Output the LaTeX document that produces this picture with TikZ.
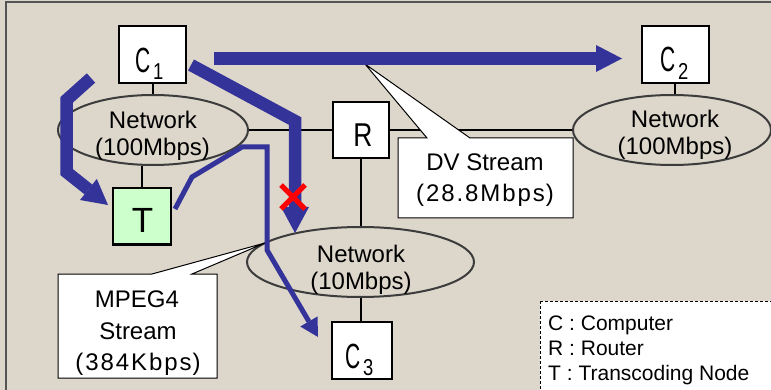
\documentclass[tikz,border=0pt]{standalone}
\usepackage{fontspec}
\setmainfont{Liberation Sans}
\newfontfamily\cfont[FakeStretch=0.6]{Liberation Sans}
\newfontfamily\nfont[FakeStretch=0.8]{Liberation Sans}
\newfontfamily\spfont[LetterSpace=8]{Liberation Sans}
\usetikzlibrary{shapes.geometric,arrows.meta}
\definecolor{bg}{RGB}{221,214,203}
\definecolor{flow}{RGB}{51,51,153}
\definecolor{tgreen}{RGB}{204,255,204}
\definecolor{ellc}{RGB}{60,60,60}
\definecolor{framec}{RGB}{85,85,85}
\tikzset{
  pcbox/.style={draw=black, line width=2pt, fill=white, inner sep=0pt,
    minimum width=67pt, minimum height=57pt},
  netell/.style={ellipse, draw=ellc, line width=2pt, inner sep=0pt,
    minimum height=70pt},
  wire/.style={draw=black, line width=2pt},
  txt/.style={inner sep=0pt, anchor=base},
  nettxt/.style={txt, font=\fontsize{24}{24}\selectfont},
  calltxt/.style={txt, font=\fontsize{24}{24}\selectfont},
  callout/.style={draw=black, line width=1pt, fill=white, line join=miter},
  legendbox/.style={draw=black, line width=1pt, fill=white, dash pattern=on 3pt off 2pt},
  flowthick/.style={draw=flow, line width=12.5pt, line join=miter},
  flowthin/.style={draw=flow, line width=5pt, line join=miter},
  redx/.style={draw=red, line width=5pt},
}
\newcommand{\Cletter}{\cfont\fontsize{35}{35}\selectfont C}
\newcommand{\Csub}[1]{\nfont\fontsize{23}{23}\selectfont #1}
\begin{document}
\begin{tikzpicture}[x=1pt,y=-1pt]
\useasboundingbox (0,0) rectangle (771,390);
\clip (0,0) rectangle (771,390);
\fill[bg] (0,0) rectangle (771,390);
\draw[framec, line width=2pt] (6,395) -- (6,2) -- (775,2);

% networks
\node[netell, minimum width=190pt] (n1) at (153,130) {};
\node[netell, minimum width=198pt] (n2) at (672,130) {};
\node[netell, minimum width=227pt] (n3) at (360.5,262) {};

% boxes
\node[pcbox] (c1) at (152.5,54.5) {};
\node[pcbox] (c2) at (675,54.5) {};
\node[pcbox, minimum width=60pt] (c3) at (361.5,350) {};
\node[pcbox, minimum width=56pt, minimum height=56pt] (r) at (361,130) {};
\node[pcbox, fill=tgreen, minimum width=58pt, minimum height=56pt] (t) at (141.5,216.5) {};

% wires
\draw[wire] (c1.south) -- (c1.south |- n1.north);
\draw[wire] (t.north) -- (t.north |- n1.south);
\draw[wire] (n1.east) -- (r.west);
\draw[wire] (r.east) -- (n2.west);
\draw[wire] (c2.south) -- (c2.south |- n2.north);
\draw[wire] (r.south) -- (r.south |- n3.north);
\draw[wire] (n3.south) -- (n3.south |- c3.north);

% box labels
\node[txt, anchor=base west] (c1l) at (135,73) {\Cletter};
\node[txt, anchor=base west] (c1s) at (153,80) {\Csub{1}};
\node[txt, anchor=base west] (c2l) at (660,72) {\Cletter};
\node[txt, anchor=base west] (c2s) at (678,80) {\Csub{2}};
\node[txt, anchor=base west] (c3l) at (345,368) {\Cletter};
\node[txt, anchor=base west] (c3s) at (363,375) {\Csub{3}};
\node[txt] (rl) at (363,147) {\nfont\fontsize{33}{33}\selectfont R};
\node[txt] (tl) at (142.5,233) {\fontsize{35}{35}\selectfont T};

% network labels
\node[nettxt] (n1a) at (153,129) {Network};
\node[nettxt] (n1b) at (152.5,156) {(100Mbps)};
\node[nettxt] (n2a) at (675,128) {Network};
\node[nettxt] (n2b) at (675,155) {(100Mbps)};
\node[nettxt] (n3a) at (361,262) {Network};
\node[nettxt] (n3b) at (361,289) {(10Mbps)};

% callouts
\draw[callout] (398,138) -- (427,138) -- (365,64) -- (470,138) -- (573,138)
  -- (573,218) -- (398,218) -- cycle;
\node[calltxt] (dv1) at (485,171) {DV Stream};
\node[calltxt] (dv2) at (485,202) {\spfont(\kern2pt 28.8Mbps\kern1pt)};

\draw[callout] (58,274) -- (152,274) -- (265,243) -- (192,274) -- (217,274)
  -- (217,378) -- (58,378) -- cycle;
\node[calltxt] (mp1) at (137,307) {MPEG4};
\node[calltxt] (mp2) at (138,339) {Stream};
\node[calltxt] (mp3) at (138,370) {\spfont(\kern2pt 384Kbps\kern1pt)};

% legend
\draw[legendbox] (540,301) rectangle (790,400);
\node[txt, anchor=base west, font=\fontsize{21}{21}\selectfont] (lg1) at (548,330) {C : Computer};
\node[txt, anchor=base west, font=\fontsize{21}{21}\selectfont] (lg2) at (548,355) {R : Router};
\node[txt, anchor=base west, font=\fontsize{21}{21}\selectfont] (lg3) at (548,380) {T : Transcoding Node};

% flows
\coordinate (dvs) at (214,58.5);
\coordinate (dve) at (622,58.5);
\draw[flowthick, -{Triangle[length=26pt,width=27pt,line width=0pt]}] (dvs) -- (dve);
\coordinate (ts) at (91,78);
\coordinate (te) at (108,205);
\draw[flowthick, -{Triangle[length=25pt,width=27pt,line width=0pt]}]
  (ts) -- (66.5,100) -- (66.5,172) -- (te);
\coordinate (bs) at (191,65);
\coordinate (be) at (295,233);
\draw[flowthick, -{Triangle[length=26pt,width=28pt,line width=0pt]}]
  (bs) -- (295,121) -- (be);
\coordinate (ms) at (175,209);
\coordinate (me) at (318,337);
\draw[flowthin, -{Triangle[length=18pt,width=20pt,line width=0pt]}]
  (ms) -- (192,177) -- (242,147) -- (267,147) -- (267,250) -- (me);

% blocked mark
\coordinate (xc) at (293,197);
\draw[redx] ([shift={(-12,-12)}]xc) -- ([shift={(12,12)}]xc)
  ([shift={(12,-12)}]xc) -- ([shift={(-12,12)}]xc);
\end{tikzpicture}
\end{document}
